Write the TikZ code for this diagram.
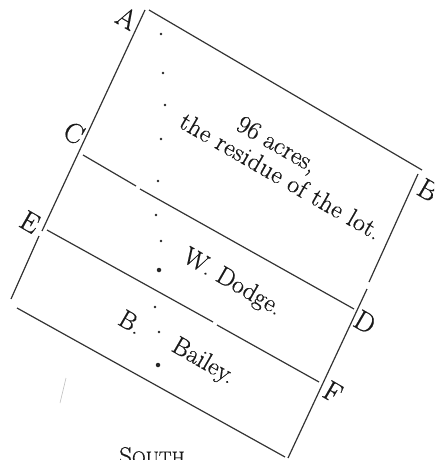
\documentclass[tikz,border=0pt]{standalone}
\usepackage{fontspec}
\newfontfamily\heavy[FakeBold=0.6]{Latin Modern Roman}
\begin{document}
\begin{tikzpicture}[x=1pt,y=-1pt,
  plotline/.style={line width=1.2pt,draw=black!80},
  lab/.style={inner sep=0pt,font=\heavy\fontsize{25.5}{27}\selectfont,rotate=-30,text=black!90,align=center},
  corner/.style={inner sep=0pt,font=\heavy\fontsize{28}{30}\selectfont,rotate=-30,text=black!90},
  mark1/.style={circle,fill=black!85,inner sep=0pt,minimum size=2.6pt},
  mark2/.style={circle,fill=black!85,inner sep=0pt,minimum size=4.5pt}]
\useasboundingbox (0,0) rectangle (434,460);
\clip (0,0) rectangle (434,460);
\coordinate (aL) at (145,10);
\coordinate (aT) at (149,10);
\coordinate (bT) at (422,170);
\coordinate (bR) at (418,174);
\coordinate (r1) at (369,282);
\coordinate (r2) at (367,289);
\coordinate (fR) at (288,458);
\coordinate (fB) at (285,457);
\coordinate (eB) at (17,308);
\coordinate (eL) at (11,299);
\coordinate (l1) at (42,231);
\coordinate (l2) at (39,236);
\coordinate (c1) at (83,155);
\coordinate (c2) at (136,186);
\coordinate (c3) at (140,189);
\coordinate (d1) at (354,309);
\coordinate (e1) at (47,230);
\coordinate (e2) at (213,322);
\coordinate (e3) at (217,325);
\coordinate (f1) at (319,382);
\coordinate (s1) at (60,403);
\coordinate (s2) at (66,378);
\draw[plotline] (aL) -- (l1);
\draw[plotline] (l2) -- (eL);
\draw[plotline] (aT) -- (bT);
\draw[plotline] (bR) -- (r1);
\draw[plotline] (r2) -- (fR);
\draw[plotline] (eB) -- (fB);
\draw[plotline] (c1) -- (c2);
\draw[plotline] (c3) -- (d1);
\draw[plotline] (e1) -- (e2);
\draw[plotline] (e3) -- (f1);
\draw[black!25,line width=0.6pt] (s1) -- (s2);
\node[corner] (A) at (127,18) {A};
\node[corner] (B) at (428,190) {B};
\node[corner] (C) at (74,133) {C};
\node[corner] (D) at (365,322) {D};
\node[corner] (E) at (30,222) {E};
\node[corner] (F) at (333,392) {F};
\node[lab] (t1) at (276,146) {96 acres,};
\node[lab] (t2) at (281,176) {\addfontfeature{LetterSpace=2}the residue of the lot.};
\node[lab] (t3) at (232,283) {W. Dodge.};
\node[lab] (t4) at (131,322) {B.};
\node[lab] (t5) at (203,362) {Bailey.};
\node[inner sep=0pt,font=\heavy\fontsize{25}{27}\selectfont,text=black!90] (t6) at (152,456) {S\fontsize{19}{21}\selectfont OUTH};
\node[mark1] (m1) at (161,34) {};
\node[mark1] (m2) at (163,73) {};
\node[mark1] (m3) at (165,105) {};
\node[mark1] (m4) at (161,139) {};
\node[mark1] (m5) at (158,181) {};
\node[mark1] (m6) at (156,215) {};
\node[mark1] (m7) at (161,241) {};
\node[mark2] (m8) at (159,270) {};
\node[mark1] (m9) at (155,307) {};
\node[mark1] (m10) at (159,332) {};
\node[mark2] (m11) at (158,365) {};
\end{tikzpicture}
\end{document}
